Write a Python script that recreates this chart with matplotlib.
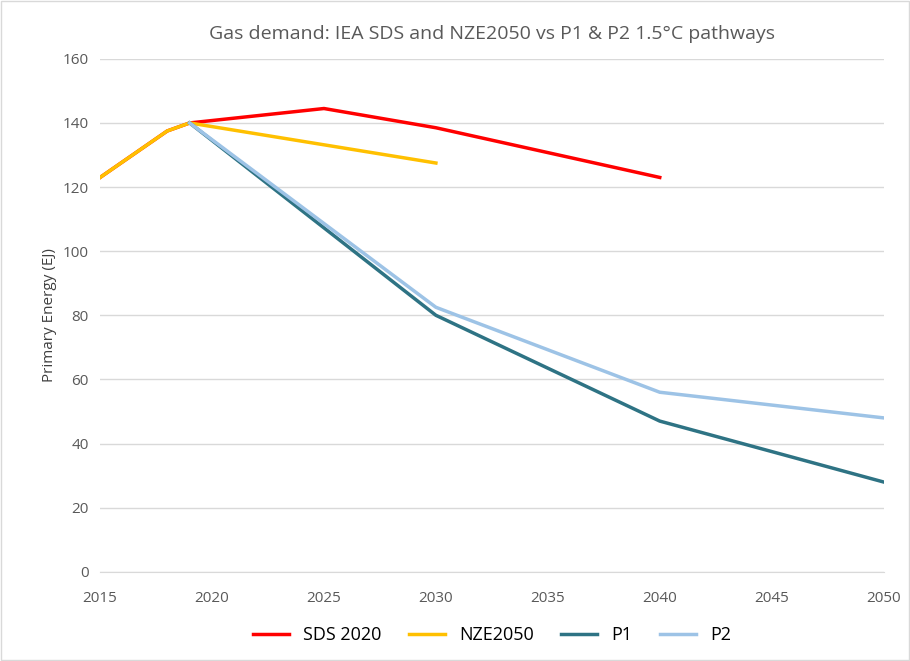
import matplotlib.pyplot as plt

# values
sds_years = [2015, 2018, 2019, 2025, 2030, 2040]
sds_vals = [123, 137.5, 140, 144.5, 138.5, 123]
nze_years = [2015, 2018, 2019, 2030]
nze_vals = [123, 137.5, 140, 127.5]
p_years = [2019, 2030, 2040, 2050]
p1_vals = [140, 80, 47, 28]
p2_vals = [140, 82.5, 56, 48]

plt.rcParams['font.family'] = ['Open Sans', 'DejaVu Sans']
fig = plt.figure(figsize=(9.1, 6.61), dpi=100)
ax = fig.add_axes([0.11, 0.135, 0.861, 0.776])

ax.plot(sds_years, sds_vals, color='#ff0000', lw=2.5, label='SDS 2020')
ax.plot(nze_years, nze_vals, color='#ffc000', lw=2.5, label='NZE2050')
ax.plot(p_years, p1_vals, color='#2e7384', lw=2.5, label='P1')
ax.plot(p_years, p2_vals, color='#9dc3e6', lw=2.5, label='P2')

ax.set_xlim(2015, 2050)
ax.set_ylim(0, 160)
ax.set_xticks(range(2015, 2051, 5))
ax.set_yticks(range(0, 161, 20))
ax.grid(axis='y', color='#d9d9d9', lw=1)
ax.set_axisbelow(True)
for s in ['top', 'right', 'left']:
    ax.spines[s].set_visible(False)
ax.spines['bottom'].set_color('#d9d9d9')
ax.tick_params(length=0, labelsize=11, colors='#595959')
ax.tick_params(axis='y', pad=8)
ax.tick_params(axis='x', pad=14)
ax.set_ylabel('Primary Energy (EJ)', fontsize=11, color='#404040')
ax.set_title('Gas demand: IEA SDS and NZE2050 vs P1 & P2 1.5\u00b0C pathways',
             fontsize=14, color='#595959', pad=14)
ax.legend(loc='upper center', bbox_to_anchor=(0.5, -0.075), ncol=4, frameon=False,
          fontsize=13, handlelength=2, columnspacing=1.5)

fig.patches.append(plt.Rectangle((0.001, 0.001), 0.998, 0.998, transform=fig.transFigure,
                                 fill=False, edgecolor='#d9d9d9', lw=1))
fig.savefig('out.png')
